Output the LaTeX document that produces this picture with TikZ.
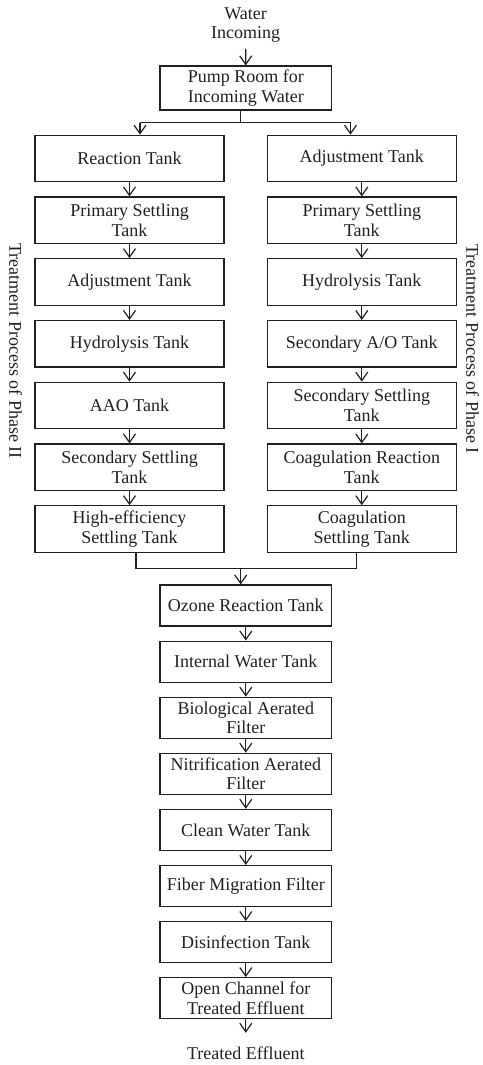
\documentclass[tikz,border=0pt]{standalone}
\usepackage{fontspec}
\setmainfont{Liberation Serif}
\usetikzlibrary{arrows.meta}
\definecolor{ink}{HTML}{231F20}
\begin{document}
\begin{tikzpicture}[x=1pt,y=-1pt,
  every node/.style={text=ink,font=\fontsize{18}{19.5}\selectfont},
  sidebox/.style={draw=ink,line width=1.2pt,minimum width=189pt,minimum height=46.5pt,inner sep=0pt,align=center},
  midbox/.style={draw=ink,line width=1.2pt,minimum width=171.7pt,minimum height=41pt,inner sep=0pt,align=center},
  lbl/.style={inner sep=0pt,align=center},
  conn/.style={draw=ink,line width=1.2pt},
  arr/.style={conn,-{Straight Barb[length=8.5pt,width=12pt,line width=1.2pt]}}]
\useasboundingbox (0,0) rectangle (482,1065);
% top
\node[lbl] (water) at (245.6,25) {Water\\Incoming};
\node[midbox,minimum height=44pt] (pump) at (245.8,88) {Pump Room for\\Incoming Water};
% left column (Phase II)
\node[sidebox] (L1) at (129.5,158.5) {Reaction Tank};
\node[sidebox] (L2) at (129.5,220.3) {Primary Settling\\Tank};
\node[sidebox] (L3) at (129.5,282.0) {Adjustment Tank};
\node[sidebox] (L4) at (129.5,343.8) {Hydrolysis Tank};
\node[sidebox] (L5) at (129.5,405.5) {AAO Tank};
\node[sidebox] (L6) at (129.5,467.3) {Secondary Settling\\Tank};
\node[sidebox] (L7) at (129.5,529.0) {High-efficiency\\Settling Tank};
% right column (Phase I)
\node[sidebox] (R1) at (361.8,158.5) {Adjustment Tank};
\node[sidebox] (R2) at (361.8,220.3) {Primary Settling\\Tank};
\node[sidebox] (R3) at (361.8,282.0) {Hydrolysis Tank};
\node[sidebox] (R4) at (361.8,343.8) {Secondary A/O Tank};
\node[sidebox] (R5) at (361.8,405.5) {Secondary Settling\\Tank};
\node[sidebox] (R6) at (361.8,467.3) {Coagulation Reaction\\Tank};
\node[sidebox] (R7) at (361.8,529.0) {Coagulation\\Settling Tank};
% centre column
\node[midbox] (C1) at (245.8,605.5) {Ozone Reaction Tank};
\node[midbox] (C2) at (245.8,661.6) {Internal Water Tank};
\node[midbox] (C3) at (245.8,717.7) {Biological Aerated\\Filter};
\node[midbox] (C4) at (245.8,773.8) {Nitrification Aerated\\Filter};
\node[midbox] (C5) at (245.8,829.9) {Clean Water Tank};
\node[midbox] (C6) at (245.8,886.0) {Fiber Migration Filter};
\node[midbox] (C7) at (245.8,942.1) {Disinfection Tank};
\node[midbox] (C8) at (245.8,998.2) {Open Channel for\\Treated Effluent};
\node[lbl] (out) at (245.8,1053) {Treated Effluent};
% side labels
\node[lbl,rotate=-90] (ph2) at (15.5,351) {Treatment Process of Phase II};
\node[lbl,rotate=-90] (ph1) at (472.5,349) {Treatment Process of Phase I};
% connectors top
\draw[arr,shorten <=6pt] (water.south) -- (pump.north);
\coordinate (bl) at (140,122.7);
\coordinate (brr) at (350.5,122.7);
\coordinate (bm) at (240.7,122.7);
\draw[conn] (pump.south -| bm) -- (bm);
\draw[conn] (bl) -- (brr);
\draw[arr] (bl) -- (bl |- L1.north);
\draw[arr] (brr) -- (brr |- R1.north);
% column arrows
\foreach \a/\b in {L1/L2,L2/L3,L3/L4,L4/L5,L5/L6,L6/L7,R1/R2,R2/R3,R3/R4,R4/R5,R5/R6,R6/R7,C1/C2,C2/C3,C3/C4,C4/C5,C5/C6,C6/C7,C7/C8}
  \draw[arr] (\a.south) -- (\b.north);
% merge
\coordinate (ml) at (136,568.3);
\coordinate (mr) at (356.5,568.3);
\coordinate (mm) at (240.7,568.3);
\draw[conn] (L7.south -| ml) -- (ml) -- (mr) -- (R7.south -| mr);
\draw[arr] (mm) -- (mm |- C1.north);
\draw[arr] (C8.south) -- ++(0,13.5);
\end{tikzpicture}
\end{document}
